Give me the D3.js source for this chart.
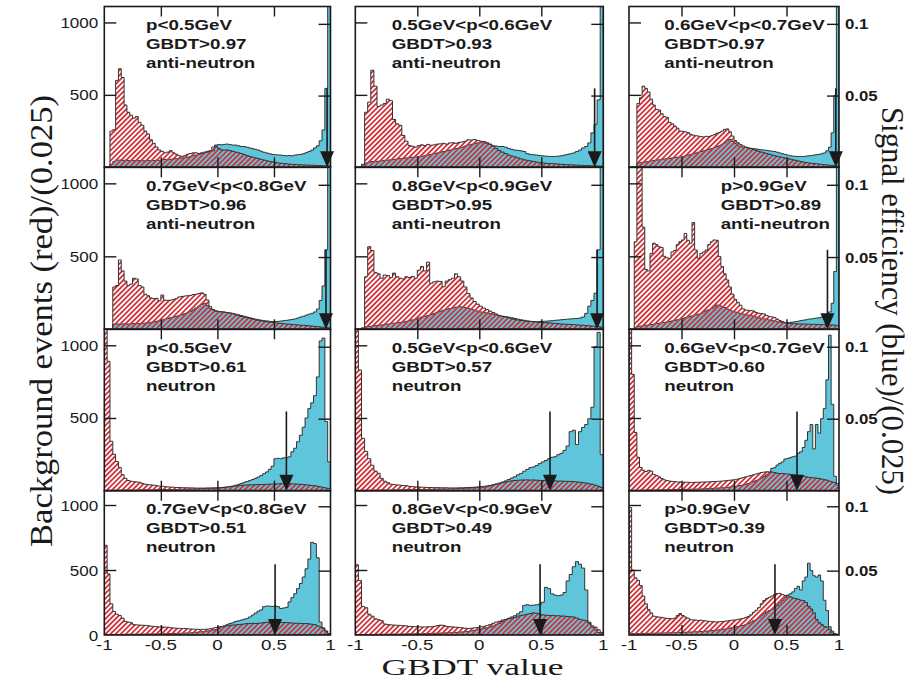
<!DOCTYPE html>
<html>
<head>
<meta charset="utf-8">
<script src="https://cdn.jsdelivr.net/npm/d3@7.9.0/dist/d3.min.js"></script>
<style>
  body { margin: 0; background: #fff; }
  svg { display: block; }
</style>
</head>
<body>
<svg id="chart" width="912" height="679"></svg>
<script>
// panel texts, row by row
const momentumLabels = ['p<0.5GeV', '0.5GeV<p<0.6GeV', '0.6GeV<p<0.7GeV',
  '0.7GeV<p<0.8GeV', '0.8GeV<p<0.9GeV', 'p>0.9GeV',
  'p<0.5GeV', '0.5GeV<p<0.6GeV', '0.6GeV<p<0.7GeV',
  '0.7GeV<p<0.8GeV', '0.8GeV<p<0.9GeV', 'p>0.9GeV'];
const cutLabels = ['GBDT>0.97', 'GBDT>0.93', 'GBDT>0.97', 'GBDT>0.96', 'GBDT>0.95', 'GBDT>0.89',
  'GBDT>0.61', 'GBDT>0.57', 'GBDT>0.60', 'GBDT>0.51', 'GBDT>0.49', 'GBDT>0.39'];
const particleLabels = ['anti-neutron', 'anti-neutron', 'anti-neutron', 'anti-neutron', 'anti-neutron', 'anti-neutron',
  'neutron', 'neutron', 'neutron', 'neutron', 'neutron', 'neutron'];
const cutValues = [0.97, 0.93, 0.97, 0.96, 0.95, 0.89, 0.61, 0.57, 0.60, 0.51, 0.49, 0.39];

const xTicks = [-1, -0.5, 0, 0.5, 1];
const leftTicks = [500, 1000];
const rightTicks = [0.05, 0.1];

// background events per 0.025 bin (red), 80 bins from -1 to 1
const bkgAnti1 = [0,0,250,260,600,680,620,430,380,360,
  340,350,310,290,250,230,190,165,140,120,
  110,100,105,115,100,90,80,75,80,90,
  95,100,100,95,100,105,110,115,140,145,
  130,120,118,120,115,110,105,100,95,88,
  80,75,70,65,60,55,50,45,40,38,
  35,30,28,26,24,22,20,20,18,18,
  16,16,15,14,14,12,12,10,10,10];
const bkgAnti2 = [0,0,20,380,450,670,560,420,430,440,
  470,460,330,300,290,220,180,150,145,140,
  150,155,150,158,152,155,160,162,165,160,
  168,170,165,172,175,180,190,188,192,185,
  180,178,170,160,145,130,115,105,95,85,
  78,72,65,58,52,48,44,40,36,32,
  30,28,26,25,24,22,20,19,18,17,
  16,15,14,13,12,11,10,10,9,8];
const bkgAnti3 = [0,0,0,440,480,560,545,520,470,430,
  400,395,370,350,345,310,300,285,270,250,
  248,245,240,228,222,218,215,212,210,214,
  212,218,225,235,240,250,262,265,245,215,
  185,170,158,148,140,134,128,122,116,110,
  105,100,95,90,85,80,76,72,68,64,
  60,56,52,48,44,40,36,33,30,28,
  26,24,22,20,18,16,14,12,10,9];
const bkgAnti4 = [0,0,0,290,300,475,400,330,300,310,
  350,345,300,290,240,230,215,210,212,195,
  235,200,198,200,205,210,222,225,228,230,
  232,238,240,245,250,240,200,155,135,125,
  122,120,118,115,112,108,100,95,88,84,
  80,75,70,65,62,58,55,52,50,48,
  45,42,40,38,36,35,33,32,30,28,
  27,26,24,22,20,18,16,14,12,10];
const bkgAnti5 = [0,0,10,360,566,540,390,380,350,372,
  368,355,385,360,350,345,360,355,362,350,
  405,430,400,460,315,326,330,328,292,330,
  340,350,380,360,330,290,245,215,190,172,
  158,145,135,125,115,105,95,88,85,78,
  72,66,64,60,58,55,54,52,50,48,
  46,45,44,42,40,38,36,35,34,33,
  32,30,28,27,26,24,22,20,18,15];
const bkgAnti6 = [0,0,600,1500,1500,700,410,400,520,590,
  580,566,560,500,490,486,530,540,580,600,
  612,657,610,590,731,543,486,520,530,543,
  580,600,612,610,498,430,380,338,290,240,
  205,185,165,140,132,130,128,125,115,110,
  108,105,95,88,85,80,70,60,53,45,
  40,40,38,38,37,36,36,35,35,34,
  34,33,33,32,32,31,30,30,28,25];
const bkgNeu1 = [1500,890,340,250,200,160,110,85,70,65,
  62,60,58,50,45,42,40,38,35,32,
  30,28,26,25,24,22,22,21,20,20,
  19,19,18,18,18,18,19,19,20,20,
  21,22,24,26,28,30,32,34,36,38,
  39,40,40,41,42,42,43,44,45,45,
  46,47,48,48,49,48,47,46,45,44,
  42,40,38,36,34,30,26,22,18,14];
const bkgNeu2 = [1500,830,360,270,220,175,135,120,85,65,
  55,45,42,40,38,36,34,30,28,26,
  25,24,23,22,22,21,21,20,20,20,
  19,19,19,20,20,21,22,23,24,26,
  28,30,33,36,40,45,50,55,60,64,
  68,70,72,73,74,74,73,74,72,71,
  70,69,68,68,67,66,66,65,64,64,
  62,60,58,55,52,48,44,38,30,22];
const bkgNeu3 = [1500,800,400,230,160,140,132,140,135,112,
  105,95,84,75,70,66,64,62,60,60,
  59,58,58,57,57,58,58,59,60,60,
  61,62,63,64,65,66,68,70,72,74,
  76,80,85,90,95,100,105,110,115,120,
  125,128,130,130,128,125,120,118,118,116,
  115,112,110,108,106,105,100,95,92,90,
  88,86,84,80,76,72,65,60,55,50];
const bkgNeu4 = [690,470,240,180,160,150,130,105,100,95,
  80,78,76,75,74,72,68,66,64,62,
  62,60,60,56,54,52,51,50,50,48,
  46,45,44,43,43,44,45,48,52,58,
  62,65,68,72,75,76,78,80,82,85,
  88,88,90,88,90,92,95,98,100,102,
  100,98,97,96,95,94,92,90,90,89,
  88,88,86,82,80,70,62,55,30,10];
const bkgNeu5 = [540,420,220,210,160,145,125,118,110,85,
  80,78,76,75,74,72,70,66,65,64,
  63,62,62,63,64,66,72,76,74,66,
  64,62,60,58,55,52,50,52,55,58,
  62,66,72,80,90,100,105,115,120,125,
  130,135,145,150,155,160,165,170,168,160,
  155,152,150,150,148,148,146,145,142,140,
  138,130,120,115,110,90,70,60,40,20];
const bkgNeu6 = [980,500,440,420,380,300,240,195,170,145,
  140,138,135,130,128,126,125,130,150,165,
  150,138,130,118,116,115,112,114,110,108,
  105,103,102,100,102,104,106,108,112,114,
  116,120,124,128,135,142,155,175,190,210,
  240,265,280,290,300,310,318,320,310,305,
  300,293,285,280,275,268,265,250,220,200,
  170,120,95,80,65,60,40,15,8,5];

// signal efficiency per 0.025 bin (blue)
const sigAnti1 = [0,0,0.002,0.004,0.005,0.005,0.0048,0.005,0.0047,0.0046,
  0.0048,0.0045,0.0047,0.0046,0.0045,0.0048,0.0046,0.0047,0.005,0.0049,
  0.0052,0.0055,0.0053,0.0056,0.0058,0.006,0.0062,0.0065,0.0068,0.007,
  0.0075,0.008,0.0085,0.009,0.0095,0.01,0.0105,0.011,0.0115,0.0155,
  0.0158,0.0157,0.016,0.0162,0.0158,0.0155,0.0155,0.015,0.0145,0.0145,
  0.014,0.0135,0.013,0.0125,0.012,0.0112,0.0105,0.01,0.0095,0.009,
  0.0088,0.0086,0.0085,0.0082,0.008,0.0082,0.008,0.0085,0.0088,0.009,
  0.0095,0.0102,0.011,0.012,0.0135,0.015,0.0185,0.026,0.055,0.16];
const sigAnti2 = [0,0,0.001,0.003,0.0035,0.004,0.004,0.0042,0.0045,0.0048,
  0.005,0.0052,0.0055,0.0058,0.006,0.0062,0.0065,0.0068,0.007,0.0072,
  0.0075,0.0078,0.008,0.0085,0.009,0.0095,0.01,0.0105,0.011,0.0115,
  0.012,0.0125,0.013,0.0135,0.014,0.0148,0.0155,0.016,0.0165,0.017,
  0.0172,0.017,0.0168,0.016,0.015,0.0148,0.0145,0.0145,0.014,0.0132,
  0.0125,0.012,0.0118,0.0115,0.011,0.0095,0.009,0.0088,0.0085,0.0082,
  0.008,0.0078,0.0076,0.0075,0.0076,0.0078,0.008,0.0085,0.009,0.0095,
  0.01,0.011,0.012,0.0135,0.0145,0.017,0.024,0.03,0.047,0.15];
const sigAnti3 = [0,0,0,0.003,0.0032,0.0035,0.0038,0.004,0.0045,0.0048,
  0.005,0.0052,0.0055,0.0058,0.006,0.0062,0.0065,0.0068,0.007,0.0072,
  0.0075,0.008,0.0085,0.009,0.0095,0.01,0.0105,0.011,0.0115,0.012,
  0.0125,0.013,0.0138,0.0145,0.015,0.016,0.017,0.0185,0.0195,0.018,
  0.0165,0.015,0.0145,0.014,0.0138,0.0135,0.0132,0.013,0.0128,0.0125,
  0.0122,0.012,0.0118,0.0115,0.0112,0.011,0.0105,0.01,0.0095,0.009,
  0.0085,0.008,0.0078,0.0076,0.0075,0.0076,0.0075,0.0078,0.008,0.0082,
  0.0085,0.0088,0.009,0.0095,0.01,0.0115,0.014,0.024,0.05,0.15];
const sigAnti4 = [0,0,0,0.0035,0.0037,0.0036,0.0037,0.0038,0.0036,0.0038,
  0.004,0.0039,0.004,0.0042,0.0043,0.0045,0.0048,0.005,0.0055,0.006,
  0.0065,0.007,0.0075,0.008,0.0085,0.009,0.0095,0.01,0.0108,0.0115,
  0.0125,0.0135,0.0148,0.016,0.0172,0.018,0.0165,0.0145,0.0135,0.0128,
  0.0122,0.012,0.0118,0.0115,0.0112,0.011,0.0105,0.01,0.0095,0.009,
  0.0085,0.008,0.0075,0.007,0.0066,0.0063,0.006,0.0058,0.0055,0.0054,
  0.0053,0.0055,0.0057,0.006,0.0062,0.0065,0.0068,0.0072,0.0078,0.0085,
  0.009,0.0098,0.0105,0.011,0.012,0.014,0.02,0.03,0.055,0.15];
const sigAnti5 = [0,0,0,0.0018,0.002,0.0022,0.0025,0.0028,0.003,0.0033,
  0.0036,0.004,0.0042,0.0045,0.0048,0.005,0.0055,0.006,0.0065,0.007,
  0.0078,0.0085,0.009,0.0095,0.0102,0.011,0.0118,0.0125,0.0132,0.0138,
  0.0143,0.0148,0.0152,0.0158,0.0155,0.015,0.0145,0.0138,0.0132,0.0126,
  0.012,0.0116,0.0112,0.0108,0.0104,0.0098,0.0094,0.009,0.0088,0.0084,
  0.008,0.0075,0.007,0.0066,0.0062,0.0058,0.0055,0.0054,0.0053,0.0054,
  0.0055,0.0056,0.0058,0.006,0.0062,0.0064,0.0066,0.0068,0.007,0.0072,
  0.0074,0.0075,0.0078,0.0085,0.011,0.016,0.02,0.025,0.055,0.15];
const sigAnti6 = [0,0,0.001,0.002,0.0022,0.0025,0.0028,0.003,0.0033,0.0036,
  0.004,0.0042,0.0045,0.0048,0.005,0.0054,0.0058,0.0062,0.0066,0.007,
  0.0075,0.008,0.0085,0.009,0.0095,0.01,0.0105,0.011,0.012,0.0128,
  0.0136,0.0145,0.0155,0.0168,0.0165,0.0158,0.015,0.014,0.0132,0.0125,
  0.012,0.0115,0.011,0.0106,0.0102,0.0098,0.0095,0.009,0.0085,0.008,
  0.0076,0.0072,0.0068,0.0064,0.006,0.0056,0.0052,0.005,0.0048,0.0046,
  0.0046,0.0048,0.005,0.0053,0.0056,0.006,0.0063,0.0066,0.007,0.0072,
  0.0075,0.0078,0.008,0.0085,0.009,0.01,0.012,0.018,0.04,0.15];
const sigNeu1 = [0.0002,0.0003,0.0003,0.0004,0.0004,0.0004,0.0005,0.0005,0.0005,0.0005,
  0.0005,0.0005,0.0006,0.0006,0.0006,0.0006,0.0006,0.0007,0.0007,0.0007,
  0.0007,0.0008,0.0008,0.0008,0.0009,0.0009,0.001,0.001,0.0011,0.0011,
  0.0012,0.0012,0.0013,0.0013,0.0014,0.0014,0.0015,0.0015,0.0016,0.0016,
  0.0018,0.002,0.0022,0.0025,0.0028,0.0032,0.0038,0.0044,0.005,0.0058,
  0.0064,0.007,0.0078,0.0086,0.0095,0.0105,0.0118,0.013,0.0148,0.017,
  0.0222,0.0225,0.0222,0.0228,0.023,0.0235,0.027,0.0295,0.034,0.0385,
  0.044,0.0505,0.057,0.061,0.066,0.079,0.104,0.106,0.048,0.02];
const sigNeu2 = [0.0002,0.0002,0.0003,0.0003,0.0003,0.0004,0.0004,0.0004,0.0005,0.0005,
  0.0005,0.0005,0.0006,0.0006,0.0006,0.0006,0.0007,0.0007,0.0007,0.0008,
  0.0008,0.0008,0.0009,0.0009,0.001,0.001,0.0011,0.0011,0.0012,0.0012,
  0.0013,0.0013,0.0014,0.0015,0.0016,0.0017,0.0018,0.0019,0.002,0.0021,
  0.0022,0.0024,0.0028,0.0034,0.004,0.0046,0.0052,0.006,0.0068,0.0078,
  0.0088,0.0097,0.011,0.012,0.0135,0.0148,0.016,0.0165,0.0175,0.0188,
  0.02,0.021,0.0222,0.0232,0.0236,0.025,0.026,0.028,0.031,0.041,
  0.042,0.032,0.041,0.044,0.046,0.05,0.058,0.1,0.11,0.025];
const sigNeu3 = [0.0002,0.0003,0.0003,0.0003,0.0004,0.0004,0.0004,0.0005,0.0005,0.0005,
  0.0005,0.0006,0.0006,0.0006,0.0007,0.0007,0.0007,0.0008,0.0008,0.0008,
  0.0009,0.0009,0.001,0.001,0.0011,0.0011,0.0012,0.0012,0.0013,0.0014,
  0.0015,0.0016,0.0017,0.0018,0.0019,0.002,0.0022,0.0024,0.0026,0.0028,
  0.003,0.0033,0.0036,0.004,0.0045,0.005,0.0056,0.0062,0.007,0.0078,
  0.0088,0.0098,0.011,0.0125,0.0155,0.016,0.0178,0.019,0.02,0.022,
  0.0224,0.023,0.0236,0.024,0.026,0.027,0.03,0.035,0.041,0.046,
  0.029,0.046,0.04,0.05,0.057,0.077,0.108,0.06,0.01,0.004];
const sigNeu4 = [0.0003,0.0003,0.0004,0.0004,0.0004,0.0005,0.0005,0.0005,0.0006,0.0006,
  0.0006,0.0006,0.0007,0.0007,0.0007,0.0008,0.0008,0.0008,0.0009,0.0009,
  0.001,0.001,0.0011,0.0011,0.0012,0.0012,0.0013,0.0014,0.0015,0.0016,
  0.0017,0.0019,0.0021,0.0023,0.0025,0.0028,0.0031,0.0034,0.0038,0.0042,
  0.005,0.0065,0.007,0.008,0.009,0.0095,0.0105,0.011,0.0116,0.0122,
  0.0129,0.014,0.0155,0.017,0.0185,0.0195,0.022,0.0225,0.0224,0.0222,
  0.0226,0.022,0.0206,0.021,0.0215,0.0257,0.029,0.032,0.036,0.04,
  0.045,0.0514,0.059,0.072,0.071,0.06,0.01,0.005,0.003,0.001];
const sigNeu5 = [0.0003,0.0003,0.0003,0.0004,0.0004,0.0004,0.0005,0.0005,0.0005,0.0006,
  0.0006,0.0006,0.0007,0.0007,0.0007,0.0008,0.0008,0.0009,0.0009,0.001,
  0.001,0.0011,0.0011,0.0012,0.0013,0.0013,0.0014,0.0015,0.0016,0.0017,
  0.0018,0.0019,0.002,0.0022,0.0024,0.0026,0.0028,0.0032,0.0036,0.004,
  0.0045,0.005,0.0056,0.0062,0.007,0.008,0.009,0.0105,0.012,0.013,
  0.014,0.015,0.0165,0.018,0.023,0.0235,0.023,0.0232,0.0235,0.024,
  0.0255,0.037,0.036,0.032,0.031,0.0305,0.031,0.033,0.042,0.047,
  0.053,0.057,0.055,0.052,0.035,0.01,0.006,0.004,0.002,0.001];
const sigNeu6 = [0.001,0.001,0.0011,0.0011,0.0012,0.0012,0.0013,0.0013,0.0014,0.0014,
  0.0015,0.0015,0.0016,0.0016,0.0017,0.0017,0.0018,0.0018,0.0019,0.002,
  0.002,0.0021,0.0022,0.0023,0.0024,0.0025,0.0026,0.0027,0.0029,0.003,
  0.0032,0.0034,0.0036,0.0038,0.004,0.0043,0.0046,0.005,0.0054,0.0058,
  0.0062,0.0066,0.007,0.0075,0.008,0.0088,0.01,0.011,0.012,0.0135,
  0.015,0.0165,0.018,0.019,0.02,0.0215,0.023,0.025,0.027,0.029,
  0.031,0.032,0.0335,0.036,0.0378,0.035,0.042,0.045,0.0558,0.05,
  0.046,0.045,0.0466,0.042,0.027,0.019,0.0064,0.003,0.001,0];

const bkgSeries = [bkgAnti1, bkgAnti2, bkgAnti3, bkgAnti4, bkgAnti5, bkgAnti6,
  bkgNeu1, bkgNeu2, bkgNeu3, bkgNeu4, bkgNeu5, bkgNeu6];
const sigSeries = [sigAnti1, sigAnti2, sigAnti3, sigAnti4, sigAnti5, sigAnti6,
  sigNeu1, sigNeu2, sigNeu3, sigNeu4, sigNeu5, sigNeu6];

// pad geometry (the original figure is stretched unevenly)
const cols = [{ x0: 104.3, x1: 330.5, tx: 41.7 }, { x0: 355.3, x1: 603.3, tx: 36.4 }, { x0: 629, x1: 839, tx: 35.3 }];
const rows = [{ y0: 6.5, y1: 167.3 }, { y0: 167.3, y1: 329.3 }, { y0: 329.3, y1: 490.7 }, { y0: 490.7, y1: 635 }];

const BLUE = '#5fc5da';
const RED = '#d2333b';
const INK = '#1a1a1a';

const svg = d3.select('#chart');
const defs = svg.append('defs');

const hatch = defs.append('pattern')
  .attr('id', 'hatch')
  .attr('patternUnits', 'userSpaceOnUse')
  .attr('width', 3.6).attr('height', 3.6)
  .attr('patternTransform', 'rotate(45)');
hatch.append('rect').attr('width', 1.8).attr('height', 3.6).attr('fill', RED);

function stretchedText(g, x, y, str, opts) {
  return g.append('text')
    .attr('transform', `translate(${x},${y}) scale(${opts.sx || 1},1)`)
    .attr('text-anchor', opts.anchor || 'start')
    .attr('font-family', 'Liberation Sans, Arial, sans-serif')
    .attr('font-weight', opts.bold ? 'bold' : 'normal')
    .attr('font-size', opts.size || 15)
    .attr('fill', INK)
    .text(str);
}

const binToX = d3.scaleLinear().domain([0, 80]).range([-1, 1]);

bkgSeries.forEach((bkg, k) => {
  const r = Math.floor(k / 3), c = k % 3;
  const col = cols[c], row = rows[r];
  const x = d3.scaleLinear().domain([-1, 1]).range([col.x0, col.x1]);
  const yL = d3.scaleLinear().domain([0, 1110]).range([row.y1, row.y0]);
  const yR = d3.scaleLinear().domain([0, 0.1121]).range([row.y1, row.y0]);
  const sig = sigSeries[k];

  defs.append('clipPath').attr('id', 'clip' + k)
    .append('rect')
    .attr('x', col.x0).attr('y', row.y0)
    .attr('width', col.x1 - col.x0).attr('height', row.y1 - row.y0);

  const g = svg.append('g');
  const plot = g.append('g').attr('clip-path', `url(#clip${k})`);

  const toPoints = vals => vals.map((v, i) => ({ x: binToX(i), v }))
    .concat([{ x: 1, v: vals[vals.length - 1] }]);

  const sigArea = d3.area().curve(d3.curveStepAfter)
    .x(d => x(d.x)).y0(yR(0)).y1(d => Math.max(row.y0 - 5, yR(d.v)));
  const bkgArea = d3.area().curve(d3.curveStepAfter)
    .x(d => x(d.x)).y0(yL(0)).y1(d => Math.max(row.y0 - 5, yL(d.v)));

  plot.append('path')
    .attr('d', sigArea(toPoints(sig)))
    .attr('fill', BLUE)
    .attr('stroke', '#333')
    .attr('stroke-width', 1);

  plot.append('path')
    .attr('d', bkgArea(toPoints(bkg)))
    .attr('fill', 'url(#hatch)')
    .attr('stroke', '#333')
    .attr('stroke-width', 1);

  // inner ticks on all four sides
  g.append('g').attr('transform', `translate(${col.x0},0)`)
    .call(d3.axisRight(yL).tickValues(leftTicks).tickSize(12).tickFormat(''));
  g.append('g').attr('transform', `translate(${col.x1},0)`)
    .call(d3.axisLeft(yR).tickValues(rightTicks).tickSize(12).tickFormat(''));
  g.append('g').attr('transform', `translate(0,${row.y0})`)
    .call(d3.axisBottom(x).tickValues([-0.5, 0, 0.5]).tickSize(10).tickFormat(''));
  g.append('g').attr('transform', `translate(0,${row.y1})`)
    .call(d3.axisTop(x).tickValues([-0.5, 0, 0.5]).tickSize(10).tickFormat(''));
  g.selectAll('.domain').remove();
  g.selectAll('.tick line').attr('stroke', INK).attr('stroke-width', 1.4);

  g.append('rect')
    .attr('x', col.x0).attr('y', row.y0)
    .attr('width', col.x1 - col.x0).attr('height', row.y1 - row.y0)
    .attr('fill', 'none').attr('stroke', INK).attr('stroke-width', 1.6);

  // cut arrow
  const ax = x(cutValues[k]);
  const base = yL(0);
  g.append('line')
    .attr('x1', ax).attr('x2', ax)
    .attr('y1', yL(545)).attr('y2', base - 10)
    .attr('stroke', INK).attr('stroke-width', 1.6);
  g.append('path')
    .attr('d', `M${ax - 7},${base - 16}L${ax + 7},${base - 16}L${ax},${base}Z`)
    .attr('fill', INK);

  // panel labels
  const tx = col.x0 + (k === 5 ? 91.7 : col.tx);
  stretchedText(g, tx, row.y0 + 23.5, momentumLabels[k], { bold: true, sx: 1.25 });
  stretchedText(g, tx, row.y0 + 42.5, cutLabels[k], { bold: true, sx: 1.25 });
  stretchedText(g, tx, row.y0 + 61.5, particleLabels[k], { bold: true, sx: 1.25 });

  // left labels on first column
  if (c === 0) {
    const vals = r === 3 ? [0, 500, 1000] : leftTicks;
    vals.forEach(v => {
      stretchedText(g, col.x0 - 6, yL(v) + 5.5, String(v), { anchor: 'end', sx: 1.1, size: 15.5 });
    });
  }
  // right labels on last column
  if (c === 2) {
    rightTicks.forEach(v => {
      stretchedText(g, col.x1 + 6, yR(v) + 5.5, String(v), { bold: true, sx: 1.12 });
    });
  }
  // x labels on bottom row
  if (r === 3) {
    xTicks.forEach(v => {
      stretchedText(g, x(v), row.y1 + 15, String(v), { anchor: 'middle', sx: 1.25 });
    });
  }
});

// axis titles
svg.append('text')
  .attr('transform', 'translate(52,321) rotate(-90) scale(1,1.2)')
  .attr('text-anchor', 'middle')
  .attr('font-family', 'Liberation Serif, Times New Roman, serif')
  .attr('font-size', 26)
  .attr('textLength', 452).attr('lengthAdjust', 'spacingAndGlyphs')
  .attr('fill', INK)
  .text('Background events (red)/(0.025)');

svg.append('text')
  .attr('transform', 'translate(882,301) rotate(90) scale(1,1.2)')
  .attr('text-anchor', 'middle')
  .attr('font-family', 'Liberation Serif, Times New Roman, serif')
  .attr('font-size', 26)
  .attr('textLength', 388).attr('lengthAdjust', 'spacingAndGlyphs')
  .attr('fill', INK)
  .text('Signal efficiency (blue)/(0.025)');

svg.append('text')
  .attr('x', 472.5).attr('y', 675)
  .attr('text-anchor', 'middle')
  .attr('font-family', 'Liberation Serif, Times New Roman, serif')
  .attr('font-size', 24)
  .attr('textLength', 182).attr('lengthAdjust', 'spacingAndGlyphs')
  .attr('fill', INK)
  .text('GBDT value');
</script>
</body>
</html>
